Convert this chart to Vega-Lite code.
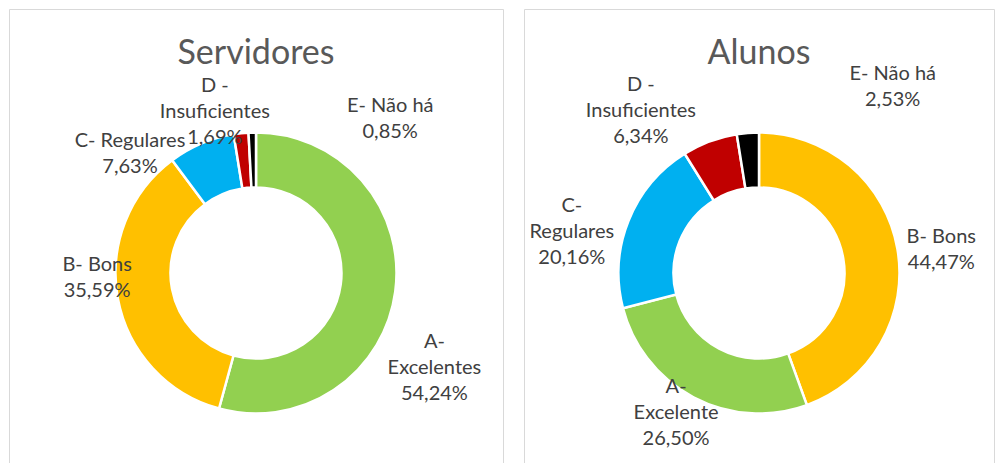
{
  "$schema": "https://vega.github.io/schema/vega-lite/v6.json",
  "background": "white",
  "padding": {"left": 8, "top": 8, "right": 0, "bottom": 0},
  "spacing": 21,
  "bounds": "flush",
  "config": {
    "font": "Lato",
    "view": {"stroke": "#d9d9d9", "strokeWidth": 1},
    "title": {"font": "Lato", "fontSize": 34, "fontWeight": "normal", "color": "#595959", "baseline": "alphabetic", "offset": -62, "frame": "group", "anchor": "middle"},
    "text": {"font": "Lato", "fontSize": 20, "color": "#404040", "lineBreak": "\n", "lineHeight": 26, "align": "center", "baseline": "middle"}
  },
  "datasets": {
    "dados": [
      {"grupo": "Servidores", "cat": "A", "ordem": 1, "pct": 54.24, "rotulo": "A-\nExcelentes\n54,24%"},
      {"grupo": "Servidores", "cat": "B", "ordem": 2, "pct": 35.59, "rotulo": "B- Bons\n35,59%"},
      {"grupo": "Servidores", "cat": "C", "ordem": 3, "pct": 7.63, "rotulo": "C- Regulares\n7,63%"},
      {"grupo": "Servidores", "cat": "D", "ordem": 4, "pct": 1.69, "rotulo": "D -\nInsuficientes\n1,69%"},
      {"grupo": "Servidores", "cat": "E", "ordem": 5, "pct": 0.85, "rotulo": "E- Não há\n0,85%"},
      {"grupo": "Alunos", "cat": "B", "ordem": 1, "pct": 44.47, "rotulo": "B- Bons\n44,47%"},
      {"grupo": "Alunos", "cat": "A", "ordem": 2, "pct": 26.50, "rotulo": "A-\nExcelente\n26,50%"},
      {"grupo": "Alunos", "cat": "C", "ordem": 3, "pct": 20.16, "rotulo": "C-\nRegulares\n20,16%"},
      {"grupo": "Alunos", "cat": "D", "ordem": 4, "pct": 6.34, "rotulo": "D -\nInsuficientes\n6,34%"},
      {"grupo": "Alunos", "cat": "E", "ordem": 5, "pct": 2.53, "rotulo": "E- Não há\n2,53%"}
    ]
  },
  "hconcat": [
    {
      "title": "Servidores",
      "width": 494,
      "height": 528,
      "view": {"stroke": "#d9d9d9", "strokeWidth": 1, "fill": "white"},
      "data": {"name": "dados"},
      "transform": [{"filter": "datum.grupo === 'Servidores'"}],
      "encoding": {
        "theta": {"field": "pct", "type": "quantitative", "stack": true},
        "order": {"field": "ordem", "type": "quantitative"}
      },
      "layer": [
        {
          "mark": {"type": "arc", "outerRadius": 140.5, "innerRadius": 85.5, "stroke": "white", "strokeWidth": 2.5},
          "encoding": {
            "color": {"field": "cat", "type": "nominal", "scale": {"domain": ["A", "B", "C", "D", "E"], "range": ["#92D050", "#FFC000", "#00B0F0", "#C00000", "#000000"]}, "legend": null}
          }
        },
        {"mark": {"type": "text", "radius": 180, "dx": 0, "dy": 45}, "encoding": {"text": {"condition": {"test": "datum.cat === 'A'", "field": "rotulo"}, "value": ""}}},
        {"mark": {"type": "text", "radius": 180, "dx": 18, "dy": -41}, "encoding": {"text": {"condition": {"test": "datum.cat === 'B'", "field": "rotulo"}, "value": ""}}},
        {"mark": {"type": "text", "radius": 180, "dx": -56, "dy": 34}, "encoding": {"text": {"condition": {"test": "datum.cat === 'C'", "field": "rotulo"}, "value": ""}}},
        {"mark": {"type": "text", "radius": 180, "dx": -22, "dy": -8}, "encoding": {"text": {"condition": {"test": "datum.cat === 'D'", "field": "rotulo"}, "value": ""}}},
        {"mark": {"type": "text", "radius": 180, "dx": 139, "dy": 13}, "encoding": {"text": {"condition": {"test": "datum.cat === 'E'", "field": "rotulo"}, "value": ""}}}
      ]
    },
    {
      "title": "Alunos",
      "width": 470,
      "height": 528,
      "view": {"stroke": "#d9d9d9", "strokeWidth": 1, "fill": "white"},
      "data": {"name": "dados"},
      "transform": [{"filter": "datum.grupo === 'Alunos'"}],
      "encoding": {
        "theta": {"field": "pct", "type": "quantitative", "stack": true},
        "order": {"field": "ordem", "type": "quantitative"}
      },
      "layer": [
        {
          "mark": {"type": "arc", "outerRadius": 140.5, "innerRadius": 85.5, "stroke": "white", "strokeWidth": 2.5},
          "encoding": {
            "color": {"field": "cat", "type": "nominal", "scale": {"domain": ["A", "B", "C", "D", "E"], "range": ["#92D050", "#FFC000", "#00B0F0", "#C00000", "#000000"]}, "legend": null}
          }
        },
        {"mark": {"type": "text", "radius": 180, "dx": 5, "dy": -5}, "encoding": {"text": {"condition": {"test": "datum.cat === 'B'", "field": "rotulo"}, "value": ""}}},
        {"mark": {"type": "text", "radius": 180, "dx": 1, "dy": -45}, "encoding": {"text": {"condition": {"test": "datum.cat === 'A'", "field": "rotulo"}, "value": ""}}},
        {"mark": {"type": "text", "radius": 180, "dx": -20, "dy": 0}, "encoding": {"text": {"condition": {"test": "datum.cat === 'C'", "field": "rotulo"}, "value": ""}}},
        {"mark": {"type": "text", "radius": 180, "dx": -55, "dy": -19}, "encoding": {"text": {"condition": {"test": "datum.cat === 'D'", "field": "rotulo"}, "value": ""}}},
        {"mark": {"type": "text", "radius": 180, "dx": 148, "dy": -20}, "encoding": {"text": {"condition": {"test": "datum.cat === 'E'", "field": "rotulo"}, "value": ""}}}
      ]
    }
  ]
}
